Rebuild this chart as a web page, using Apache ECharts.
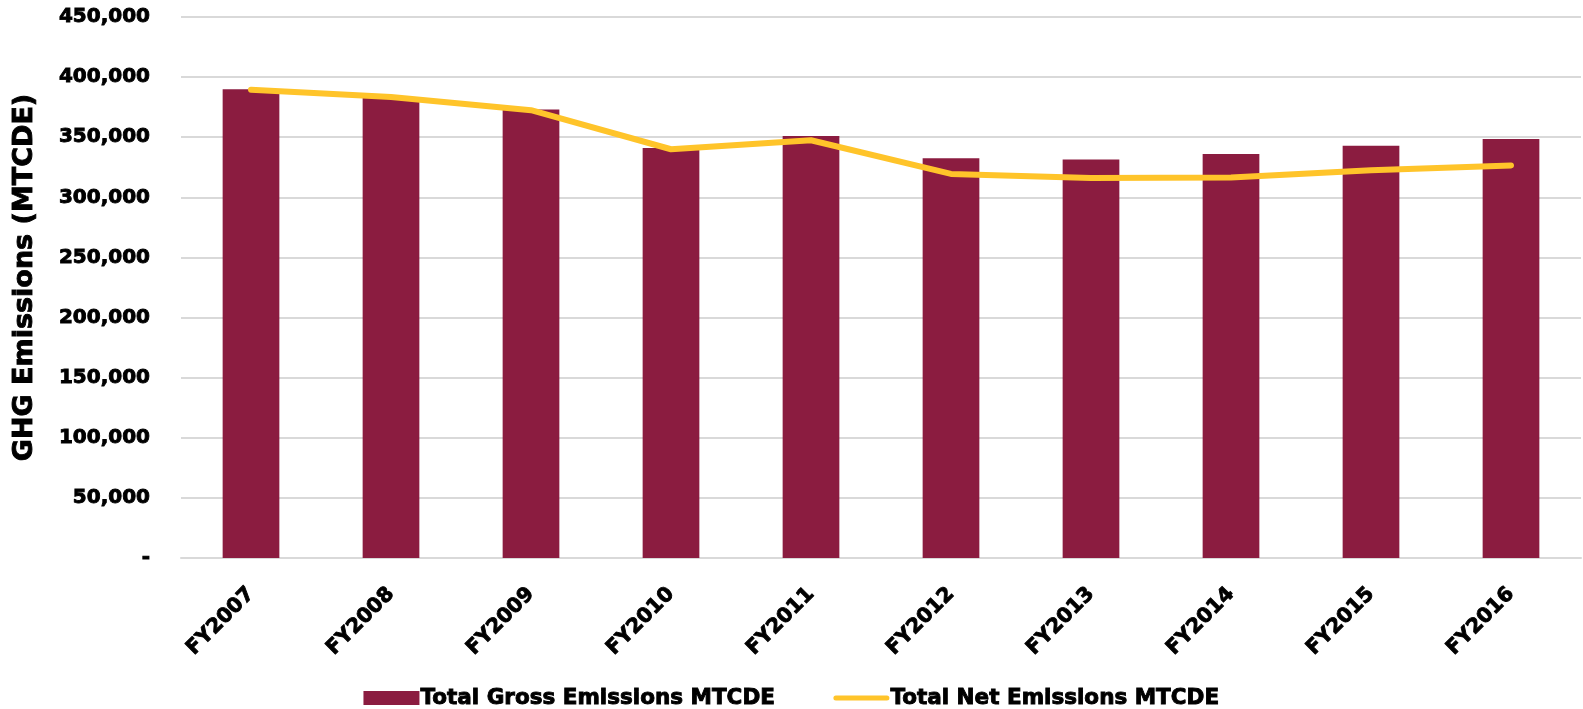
<!DOCTYPE html>
<html>
<head>
<meta charset="utf-8">
<script src="https://cdn.jsdelivr.net/npm/echarts@6/dist/echarts.min.js"></script>
<style>
html,body{margin:0;padding:0;background:#fff;}
#chart{width:1583px;height:709px;}
</style>
</head>
<body>
<div id="chart"></div>
<script>
const categories = ['FY2007','FY2008','FY2009','FY2010','FY2011','FY2012','FY2013','FY2014','FY2015','FY2016'];
const grossEmissions = [390000, 383000, 373000, 341000, 351000, 332500, 331500, 336000, 343000, 348500];
const netEmissions = [389500, 383500, 372500, 340000, 347500, 319500, 316000, 316500, 322500, 326500];
const seriesNames = ['Total Gross Emissions MTCDE', 'Total Net Emissions MTCDE'];
const yAxisTitle = 'GHG Emissions (MTCDE)';

const FONT = 'DejaVu Sans';
const heavy = { fontFamily: FONT, fontWeight: 'bold', color: '#000', textBorderColor: '#000', textBorderWidth: 0.9 };
const chart = echarts.init(document.getElementById('chart'));
chart.setOption({
  animation: false,
  backgroundColor: '#ffffff',
  grid: { left: 181, right: 2, top: 17, bottom: 151, containLabel: false },
  legend: {
    top: 686,
    left: 'center',
    padding: 0,
    itemWidth: 56,
    itemHeight: 14,
    itemGap: 58,
    textStyle: Object.assign({}, heavy, { fontSize: 21.5, lineHeight: 24, padding: [0, 0, 0, -4] }),
    data: [
      { name: seriesNames[0], icon: 'rect' },
      { name: seriesNames[1], icon: 'path://M2.5,0 L53.5,0 A2.5,2.5 0 0 1 53.5,5 L2.5,5 A2.5,2.5 0 0 1 2.5,0 Z', itemStyle: { color: '#FFC42A' } }
    ]
  },
  xAxis: {
    type: 'category',
    data: categories,
    axisLine: { show: true, lineStyle: { color: '#d9d9d9', width: 2 } },
    axisTick: { show: false },
    axisLabel: Object.assign({}, heavy, {
      rotate: 45,
      interval: 0,
      margin: 33,
      fontSize: 20.5
    })
  },
  yAxis: {
    type: 'value',
    min: 0, max: 450000, interval: 50000,
    name: yAxisTitle,
    nameLocation: 'middle',
    nameGap: 143,
    nameTextStyle: Object.assign({}, heavy, { fontSize: 27, padding: [0, 0, 0, 20] }),
    axisLine: { show: false },
    axisTick: { show: false },
    splitLine: { lineStyle: { color: '#d9d9d9', width: 2 } },
    axisLabel: Object.assign({}, heavy, {
      margin: 31,
      fontSize: 20,
      formatter: function (v) { return v === 0 ? '-' : v.toLocaleString('en-US'); }
    })
  },
  series: [
    {
      name: seriesNames[0],
      type: 'bar',
      data: grossEmissions,
      barWidth: '40.5%',
      itemStyle: { color: '#8B1C40' }
    },
    {
      name: seriesNames[1],
      type: 'line',
      data: netEmissions,
      symbol: 'none',
      lineStyle: { color: '#FFC42A', width: 6, cap: 'round', join: 'round' },
      itemStyle: { color: '#FFC42A' }
    }
  ]
});
</script>
</body>
</html>
